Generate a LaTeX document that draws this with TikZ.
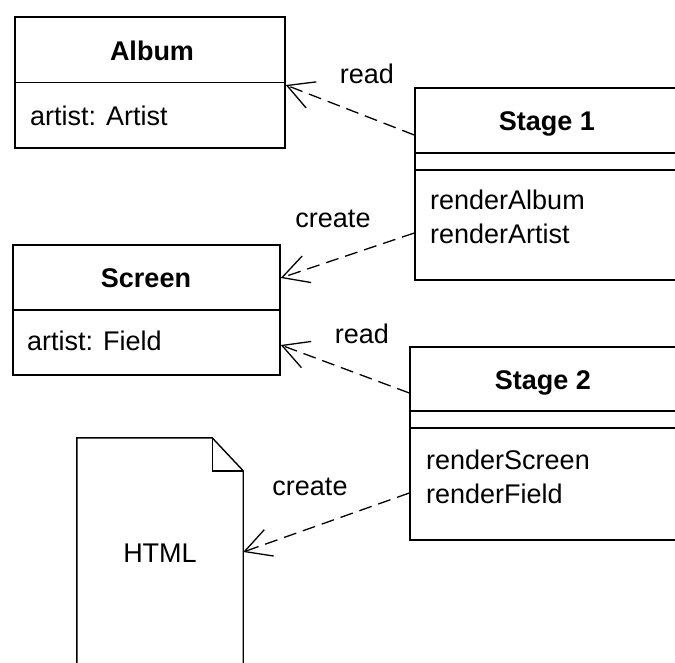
\documentclass[tikz,border=0pt]{standalone}
\usepackage{fontspec}
\setmainfont{Liberation Sans}
\usepackage{tikz}
\usetikzlibrary{arrows.meta,calc}
\newcommand{\umlsize}{\fontsize{27}{34}\selectfont}
\tikzset{
  classbox/.style={draw, line width=1.4pt, inner sep=0pt},
  cdiv/.style={line width=1.4pt},
  cname/.style={font=\umlsize\bfseries, inner sep=0pt, anchor=base},
  cmember/.style={inner sep=0pt, align=left},
  dep/.style={line width=1.3pt, dash pattern=on 13pt off 7pt,
              -{Straight Barb[length=26pt, width=28pt, line width=1.3pt]}},
  deplabel/.style={inner sep=0pt, anchor=base},
}

\begin{document}
\begin{tikzpicture}[x=1pt, y=-1pt, font=\umlsize]
\useasboundingbox (0,0) rectangle (675,662);
% ===================== data classes on the left
\node[classbox, minimum width=270pt, minimum height=131pt] (album) at (150,82.5) {};
\draw[cdiv] (album.west) -- (album.east);
\node[cname] (albumname) at (152,60) {Album};
\node[cmember, anchor=base west] (albumattr) at (30,125) {artist: Artist};

\node[classbox, minimum width=267pt, minimum height=130pt] (screen) at (146.5,310) {};
\draw[cdiv] (screen.west) -- (screen.east);
\node[cname] (screenname) at (146,287) {Screen};
\node[cmember, anchor=base west] (screenattr) at (27,350) {artist: Field};

% the page: a sheet with a folded corner
\node[minimum width=166pt, minimum height=242pt, inner sep=0pt] (html) at (160,559) {};
\draw[line width=1.4pt] (html.south west) -- (html.north west)
  -- ($(html.north east)+(-31,0)$) -- ($(html.north east)+(0,33)$) -- (html.south east);
\draw[line width=1.4pt] ($(html.north east)+(-31,0)$) -- ($(html.north east)+(-31,33)$)
  -- ($(html.north east)+(0,33)$);
\node[deplabel] (htmlname) at (160,562) {HTML};

% ===================== the two stages on the right
\node[classbox, minimum width=275pt, minimum height=192pt] (stg1) at (552.5,184) {};
\draw[cdiv] ([yshift=31pt]stg1.west) -- ([yshift=31pt]stg1.east);
\draw[cdiv] ([yshift=14pt]stg1.west) -- ([yshift=14pt]stg1.east);
\node[cname] (stg1name) at (547,130) {Stage 1};
\node[cmember, anchor=west] (stg1ops) at (430,217) {renderAlbum\\renderArtist};

\node[classbox, minimum width=280pt, minimum height=193pt] (stg2) at (550,443.5) {};
\draw[cdiv] ([yshift=32.5pt]stg2.west) -- ([yshift=32.5pt]stg2.east);
\draw[cdiv] ([yshift=15.5pt]stg2.west) -- ([yshift=15.5pt]stg2.east);
\node[cname] (stg2name) at (543,389) {Stage 2};
\node[cmember, anchor=west] (stg2ops) at (426,477) {renderScreen\\renderField};

% ===================== dependencies
\draw[dep] ([yshift=49pt]stg1.west) -- ([yshift=-2.5pt]album.east);
\node[deplabel] (rd1) at (367,83) {read};
\draw[dep] ([yshift=-49pt]stg1.west) -- ([yshift=32pt]screen.east);
\node[deplabel] (cr1) at (333,227) {create};
\draw[dep] ([yshift=50.5pt]stg2.west) -- ([yshift=-35pt]screen.east);
\node[deplabel] (rd2) at (362,343) {read};
\draw[dep] ([yshift=-49.5pt]stg2.west) -- ([yshift=7pt]html.east);
\node[deplabel] (cr2) at (310,495) {create};
\end{tikzpicture}
\end{document}
